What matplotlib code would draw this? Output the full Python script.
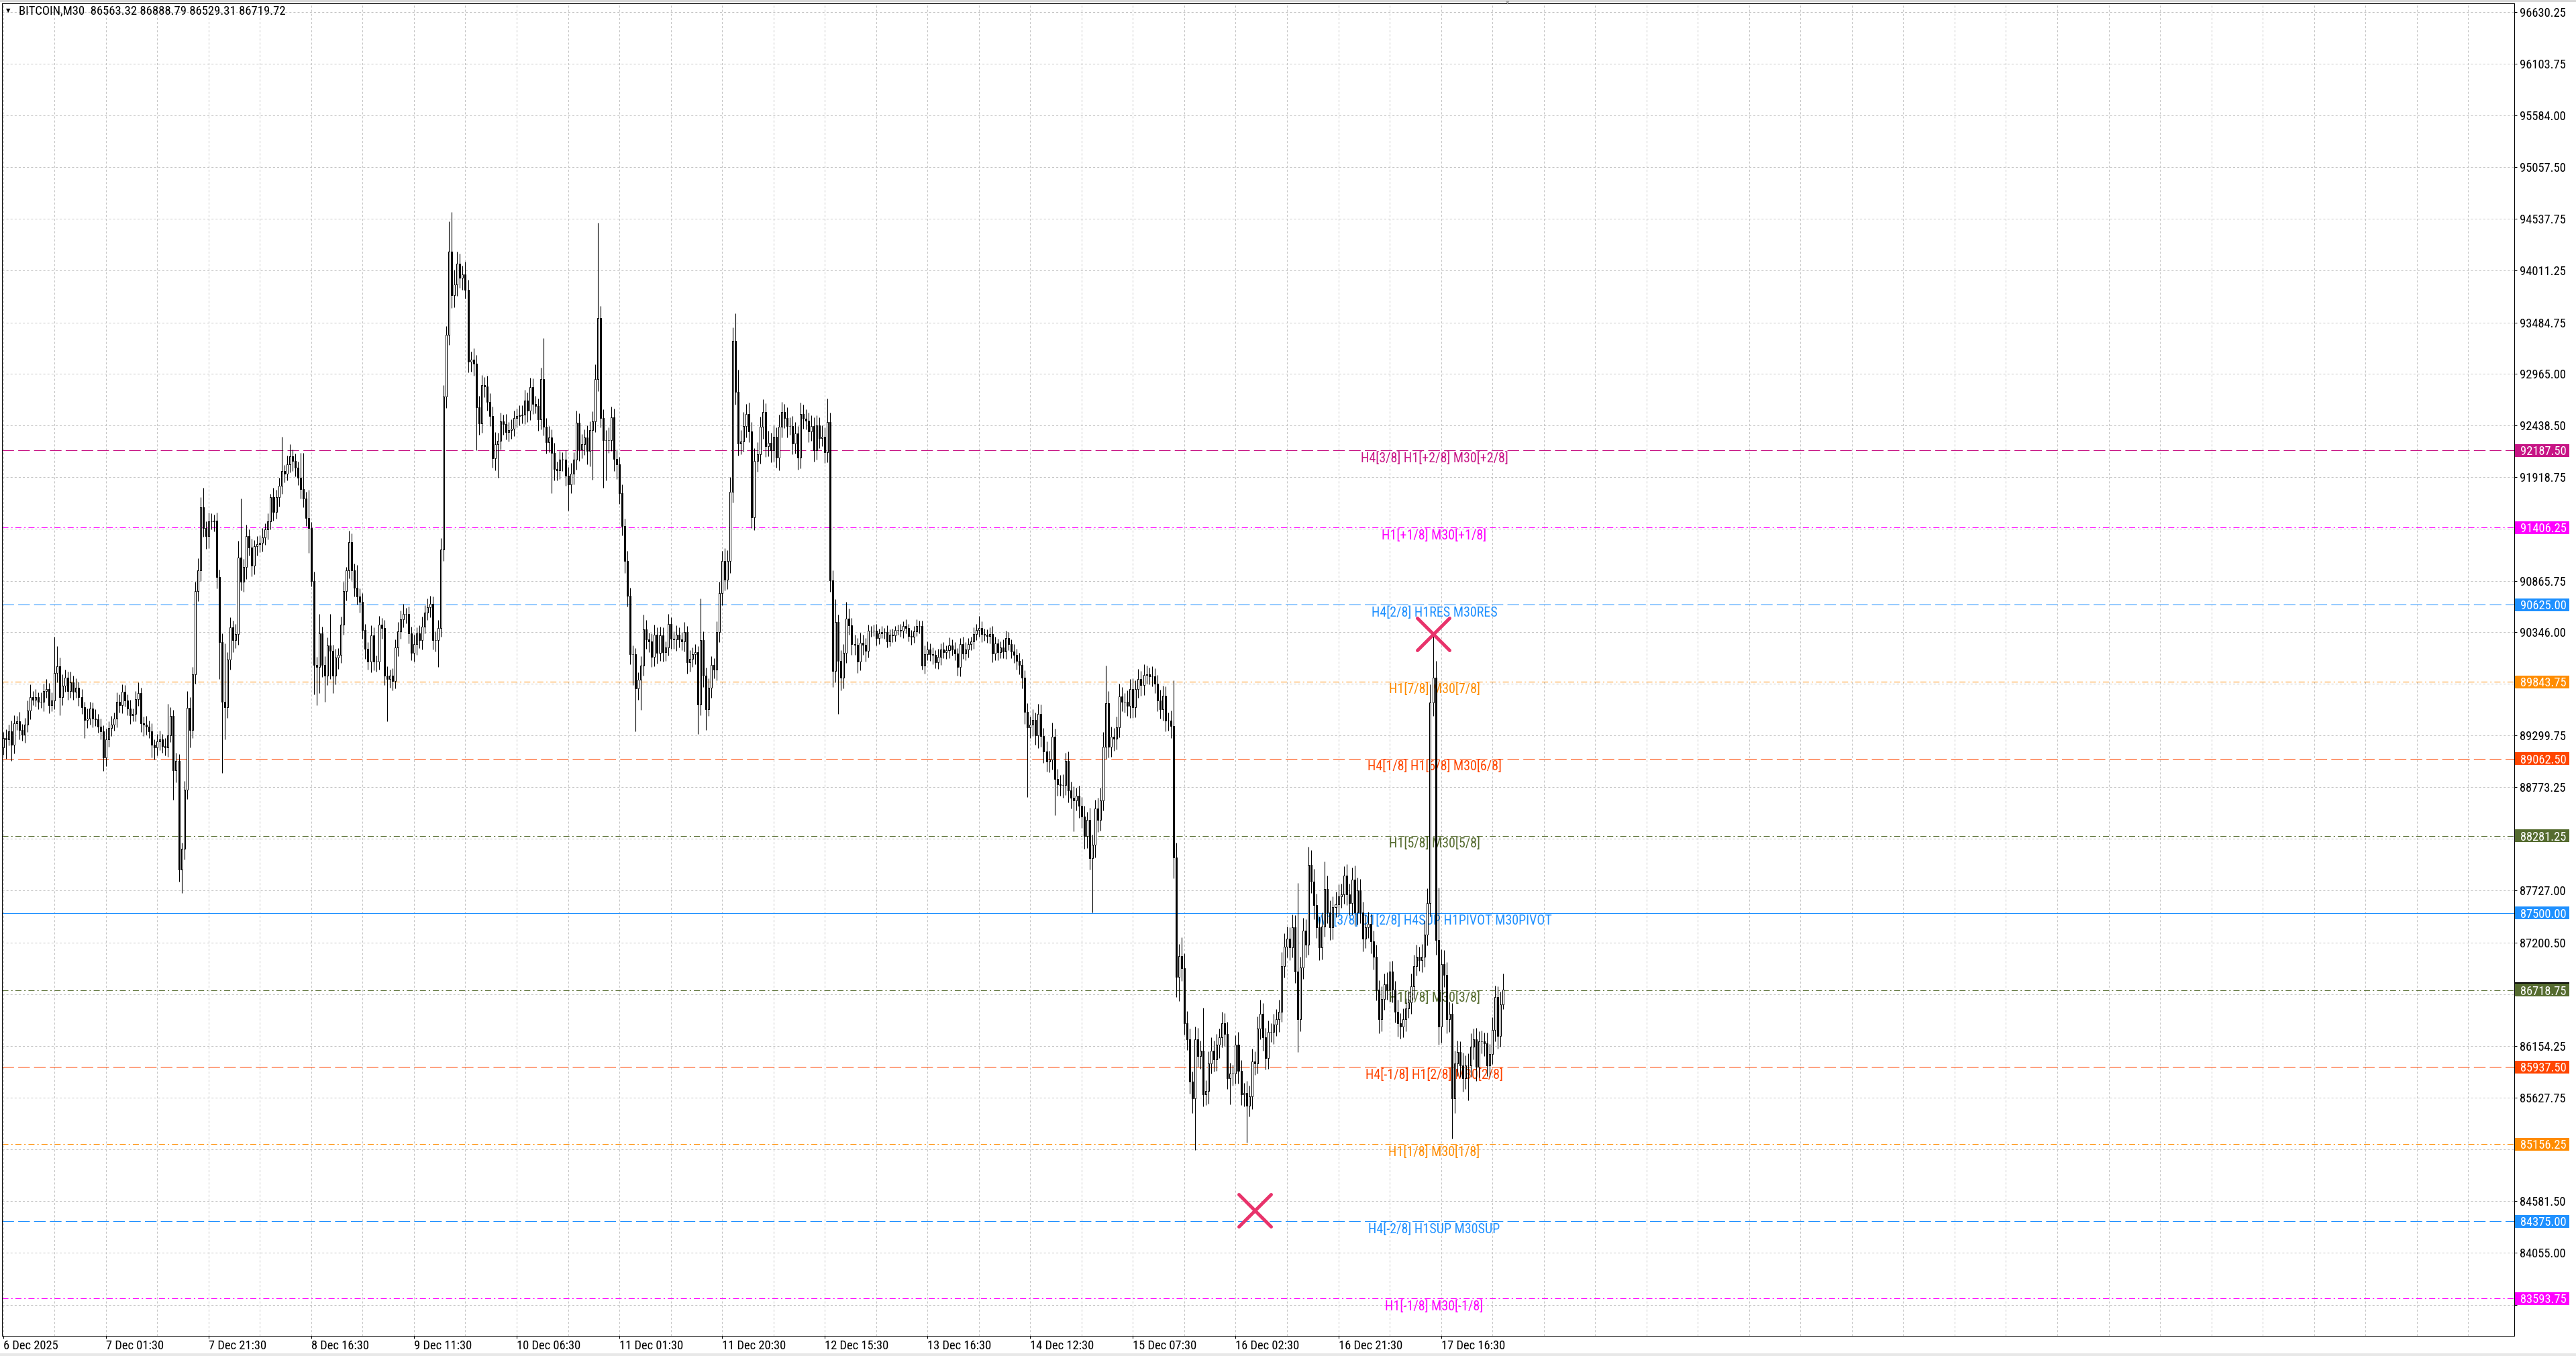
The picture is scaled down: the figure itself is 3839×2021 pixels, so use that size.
import numpy as np
import matplotlib
matplotlib.use("Agg")
import matplotlib.pyplot as plt
from matplotlib import font_manager as fm
from matplotlib.font_manager import FontProperties
from matplotlib.markers import MarkerStyle
from matplotlib.patches import Rectangle
from matplotlib.transforms import blended_transform_factory

# ---- data (BITCOIN, M30) ----
first_open = 89180

closes = [
    # 6 Dec - 8 Dec
    89274, 89257, 89340, 89208, 89422, 89445, 89356, 89307, 89406, 89554,
    89687, 89663, 89687, 89643, 89637, 89752, 89769, 89604, 89653, 89934,
    90000, 89687, 89802, 89884, 89752, 89835, 89742, 89785, 89687, 89587,
    89455, 89472, 89571, 89472, 89465, 89389, 89340, 89076, 89257, 89373,
    89406, 89472, 89637, 89604, 89742, 89653, 89571, 89505, 89521, 89670,
    89726, 89422, 89406, 89389, 89340, 89208, 89175, 89241, 89257, 89191,
    89175, 89300, 89498, 88944, 89043, 87937, 88152, 88746, 89577, 89356,
    89917, 90759, 90973, 91610, 91402, 91320, 91468, 91468, 91478, 90907,
    90247, 89637, 89587, 90066, 90396, 90264, 90330, 91105, 90857, 91006,
    91320, 91204, 91023, 91221, 91237, 91254, 91303, 91386, 91468, 91716,
    91567, 91716, 91831, 91980, 91953, 92046, 92128, 92078, 92013, 91914,
    91798, 91699, 91501, 91402,
    # 8 Dec - 10 Dec
    90866, 90014, 89996, 90334, 90014, 89908, 90210, 90156, 89908, 90086,
    90114, 90423, 90760, 90973, 91257, 90973, 90796, 90707, 90653, 90369,
    90174, 90049, 90316, 90049, 90049, 90423, 90387, 89908, 89872, 89908,
    89854, 90192, 90352, 90476, 90529, 90529, 90334, 90139, 90227, 90334,
    90263, 90405, 90547, 90600, 90636, 90263, 90263, 90387, 91186, 92731,
    93359, 94204, 93760, 93867, 94080, 93938, 93973, 93814, 93086, 93111,
    93068, 92624, 92464, 92853, 92837, 92678, 92535, 92109, 92251, 92287,
    92482, 92457, 92376, 92393, 92411, 92518, 92535, 92543, 92553, 92695,
    92589, 92827, 92660, 92642, 92500, 92908, 92429, 92269, 92322, 92163,
    92003, 91985, 92092, 92092, 91932, 91843, 91950, 92092, 92472, 92198,
    92251, 92322, 92180, 92393, 92482, 92908, 93530, 92518, 92294,
    # 10 Dec - 13 Dec
    92294, 92294, 92525, 92099, 92045, 91754, 91424, 91069, 90714, 90121,
    90121, 89773, 89862, 90004, 90377, 90270, 90252, 90093, 90323, 90135,
    90313, 90146, 90192, 90430, 90277, 90270, 90323, 90270, 90252, 90348,
    90039, 90075, 90121, 90146, 89613, 90263, 89908, 89567, 89780, 90014,
    89968, 90348, 90739, 91069, 90881, 91069, 91769, 93296, 92784, 92259,
    92276, 92436, 92560, 92383, 91513, 92081, 92152, 92429, 92578, 92230,
    92266, 92187, 92329, 92116, 92429, 92578, 92514, 92436, 92436, 92259,
    92358, 92116, 92560, 92507, 92489, 92383, 92436, 92187, 92443, 92312,
    92329, 92170, 92479, 90874, 89950, 90447, 90057, 89886, 90135, 90483,
    90412, 90227, 90217, 90050, 90241, 90217, 90156, 90359, 90359, 90359,
    90288, 90334, 90348, 90348, 90252, 90323, 90313, 90369, 90369, 90359,
    # 13 Dec - 15 Dec
    90406, 90387, 90309, 90301, 90356, 90406, 90406, 90004, 90122, 90172,
    90122, 90114, 90043, 90094, 90172, 90145, 90161, 90211, 90172, 90133,
    89997, 90223, 90133, 90172, 90223, 90250, 90328, 90367, 90387, 90328,
    90317, 90309, 90328, 90133, 90231, 90145, 90192, 90153, 90289, 90223,
    90153, 90114, 90055, 90016, 89887, 89536, 89380, 89411, 89458, 89302,
    89520, 89294, 89138, 89033, 89052, 89286, 88857, 88806, 88795, 88795,
    89040, 88740, 88670, 88638, 88689, 88584, 88474, 88279, 88443, 88053,
    88193, 88560, 88443, 88638, 89185, 89626, 89185, 89286, 89267, 89380,
    89692, 89638, 89638, 89599, 89770, 89587, 89770, 89872, 89809, 89911,
    89919, 89899, 89899, 89821, 89653, 89567, 89704, 89450, 89450, 89392,
    88065, 86855, 87062,
    # 15 Dec - 18 Dec
    86938, 86386, 86218, 85790, 85622, 86218, 86051, 86107, 85660, 85697,
    85976, 86107, 86013, 86162, 86237, 86386, 86274, 85827, 85872, 85872,
    86162, 85902, 85660, 85678, 85548, 85641, 85995, 85976, 86330, 86479,
    86237, 86032, 86293, 86293, 86367, 86423, 86498, 86964, 87161, 87243,
    87150, 87355, 86908, 86423, 86945, 87318, 87176, 87988, 87820, 87578,
    87355, 87150, 87362, 87746, 87504, 87355, 87560, 87586, 87671, 87690,
    87876, 87690, 87597, 87839, 87504, 87727, 87504, 87243, 87355, 87392,
    87213, 87057, 86721, 86423, 86628, 86777, 86721, 86908, 86721, 86498,
    86386, 86349, 86423, 86535, 86591, 86759, 86964, 87057, 87020, 87057,
    87280, 87597, 89635, 89888, 87224, 86349, 86982, 86871, 86423, 86479,
    85622, 85976, 86088, 85957, 85827, 85957, 85957, 86144, 86218, 85939,
    86200, 86200, 86181, 85957, 86069, 86312, 86647, 86256, 86572, 86721,
]

# wick lengths above / below the body, price units
upper_wick = [
    60, 90, 70, 110, 80, 50, 90, 60, 70, 100, 131, 60, 80, 50, 90, 70, 100, 60, 80, 363,
    204, 90, 120, 80, 60, 110, 70, 90, 60, 80, 50, 100, 70, 60, 90, 50, 80, 60, 110, 70,
    90, 60, 99, 80, 76, 70, 60, 90, 50, 80, 110, 60, 70, 90, 60, 80, 50, 70, 90, 60,
    80, 320, 90, 60, 80, 70, 60, 90, 175, 110, 80, 100, 120, 106, 198, 70, 90, 83, 60, 80,
    70, 90, 594, 80, 99, 70, 100, 165, 594, 80, 115, 70, 90, 60, 80, 70, 100, 60, 80, 33,
    90, 70, 80, 346, 60, 90, 122, 70, 80, 60, 247, 365, 70, 288, 60, 90, 80, 195, 70, 90,
    80, 319, 60, 90, 70, 80, 100, 35, 114, 90, 70, 230, 80, 90, 60, 70, 100, 80, 60, 90,
    70, 80, 90, 60, 70, 80, 100, 90, 107, 60, 80, 70, 90, 60, 80, 100, 70, 90, 80, 70,
    90, 80, 110, 120, 90, 302, 398, 150, 120, 100, 90, 130, 100, 80, 110, 90, 120, 100, 80, 110,
    90, 100, 120, 80, 90, 70, 100, 80, 90, 70, 80, 100, 90, 110, 80, 100, 90, 80, 70, 120,
    416, 90, 110, 80, 100, 70, 90, 80, 100, 90, 110, 80, 120, 90, 100, 80, 120, 90, 100, 150,
    966, 120, 90, 100, 130, 110, 90, 100, 80, 90, 70, 100, 80, 90, 60, 80, 100, 149, 90, 70,
    80, 100, 70, 90, 80, 60, 100, 70, 80, 90, 70, 80, 100, 60, 90, 70, 80, 60, 426, 90,
    80, 100, 90, 70, 110, 120, 100, 130, 110, 150, 140, 283, 220, 120, 140, 100, 110, 90, 130, 120,
    100, 130, 90, 120, 100, 110, 90, 120, 100, 80, 110, 90, 100, 120, 80, 110, 90, 100, 80, 110,
    90, 100, 80, 110, 90, 234, 90, 100, 231, 80, 110, 90, 170, 100, 80, 90, 70, 100, 80, 70,
    60, 50, 60, 70, 50, 60, 40, 70, 50, 60, 40, 50, 60, 50, 70, 40, 60, 50, 70, 60,
    60, 90, 80, 60, 70, 50, 80, 60, 70, 50, 80, 60, 70, 50, 60, 80, 70, 60, 50, 70,
    60, 125, 70, 50, 60, 70, 80, 70, 50, 60, 80, 70, 60, 50, 70, 60, 80, 60, 70,
    90, 80, 110, 70, 100, 90, 80, 100, 90, 145, 80, 100, 90, 110, 80, 100, 90, 110, 80, 100,
    90, 110, 80, 120, 100, 90, 110, 130, 150, 378, 120, 100, 90, 110, 130, 100, 90, 120, 100, 110,
    90, 100, 80, 110, 90, 70, 100, 80, 90, 110, 100, 90, 80, 100, 468, 144, 120, 188, 150, 120,
    110, 100, 130, 120, 100, 435, 110, 120, 130, 100, 110, 90, 112, 100, 120, 110, 90, 100, 130, 110,
    100, 120, 110, 130, 100, 120, 140, 110, 100, 120, 90, 110, 100, 120, 140, 130, 120, 110, 130, 120,
    894, 110, 130, 120, 186, 150, 130, 120, 110, 140, 279, 130, 120, 110, 130, 120, 110, 100, 120, 110,
    120, 140, 130, 120, 110, 130, 120, 100, 110, 120, 100, 130, 110, 120, 100, 110, 90, 120, 100,
    110, 100, 120, 130, 110, 120, 100, 130, 140, 150, 180, 429, 168, 533, 150, 140, 130, 120, 110, 130,
    120, 110, 130, 100, 120, 140, 110, 120, 100, 110, 90, 110, 100, 130, 120, 110, 130, 168,
]

lower_wick = [
    80, 197, 60, 165, 90, 70, 100, 60, 80, 70, 90, 60, 70, 80, 60, 90, 70, 80, 60, 90,
    100, 182, 80, 60, 90, 70, 80, 60, 90, 70, 181, 80, 60, 90, 70, 60, 80, 133, 90, 70,
    80, 60, 90, 70, 80, 60, 70, 90, 60, 80, 70, 90, 110, 80, 70, 130, 120, 80, 90, 70,
    80, 90, 70, 297, 120, 117, 232, 110, 90, 181, 80, 90, 100, 110, 90, 130, 120, 80, 100, 120,
    379, 720, 330, 109, 100, 120, 80, 110, 90, 100, 120, 80, 110, 90, 100, 80, 90, 70, 100, 80,
    90, 70, 100, 80, 90, 70, 80, 100, 90, 80, 100, 90, 80, 254, 53, 301, 390, 266, 120, 267,
    100, 284, 178, 90, 110, 80, 100, 90, 80, 100, 90, 80, 110, 90, 100, 80, 110, 90, 100, 80,
    110, 100, 426, 90, 100, 80, 90, 70, 80, 90, 100, 80, 90, 110, 80, 90, 70, 80, 100, 90,
    110, 266, 90, 120, 110, 100, 130, 120, 110, 100, 120, 90, 110, 100, 120, 437, 120, 100, 110, 90,
    100, 99, 120, 337, 90, 110, 80, 100, 90, 80, 100, 90, 80, 100, 110, 90, 100, 80, 110, 100,
    90, 110, 100, 409, 120, 100, 90, 110, 100, 266, 90, 110, 100, 120, 90, 110, 130, 150, 500, 110,
    120, 100, 487, 408, 130, 110, 120, 150, 110, 100, 120, 110, 100, 313, 434, 110, 302, 100, 90, 110,
    100, 90, 110, 80, 100, 90, 80, 100, 90, 110, 80, 90, 100, 110, 90, 80, 100, 302, 110, 120,
    213, 71, 100, 90, 110, 100, 120, 110, 100, 120, 110, 130, 120, 110, 100, 120, 110, 114, 130, 110,
    100, 120, 110, 100, 120, 110, 100, 130, 110, 100, 120, 90, 110, 100, 120, 110, 100, 90, 110, 100,
    110, 90, 100, 80, 110, 100, 120, 160, 110, 540, 130, 110, 100, 90, 110, 100, 120, 90, 100, 110,
    70, 60, 50, 80, 60, 50, 70, 60, 50, 70, 60, 50, 60, 70, 50, 60, 80, 60, 50, 70,
    40, 80, 60, 70, 90, 60, 70, 80, 60, 70, 80, 60, 70, 90, 100, 60, 70, 80, 60, 70,
    60, 70, 80, 60, 70, 80, 90, 70, 80, 60, 70, 80, 60, 70, 80, 90, 100, 110, 120,
    703, 110, 120, 100, 130, 110, 120, 100, 110, 100, 363, 120, 110, 130, 100, 120, 110, 312, 100, 120,
    110, 130, 120, 110, 546, 130, 120, 110, 100, 120, 110, 100, 120, 110, 100, 90, 110, 100, 120, 110,
    100, 90, 110, 100, 90, 80, 100, 90, 110, 100, 120, 110, 100, 120, 215, 207, 246, 130, 120, 110,
    120, 149, 522, 110, 130, 120, 110, 130, 100, 120, 110, 130, 100, 120, 110, 269, 120, 100, 130, 110,
    120, 373, 110, 130, 120, 100, 110, 130, 120, 110, 100, 120, 110, 130, 100, 120, 110, 130, 100, 120,
    335, 120, 110, 130, 100, 120, 140, 110, 130, 120, 100, 110, 130, 120, 100, 110, 120, 100, 110, 120,
    110, 130, 120, 110, 130, 100, 110, 120, 130, 110, 140, 120, 110, 100, 120, 130, 110, 140, 120,
    110, 120, 100, 110, 130, 100, 110, 120, 100, 110, 130, 140, 150, 186, 160, 120, 140, 130, 410, 150,
    130, 120, 140, 110, 353, 120, 130, 140, 110, 120, 130, 110, 120, 100, 110, 130, 110, 43,
]

time_labels = ["6 Dec 2025", "7 Dec 01:30", "7 Dec 21:30", "8 Dec 16:30", "9 Dec 11:30",
               "10 Dec 06:30", "11 Dec 01:30", "11 Dec 20:30", "12 Dec 15:30",
               "13 Dec 16:30", "14 Dec 12:30", "15 Dec 07:30", "16 Dec 02:30",
               "16 Dec 21:30", "17 Dec 16:30"]
bars_per_label = 38

# grid prices; None marks the ones hidden under the level boxes
price_ticks = [96630.25, 96103.75, 95584.00, 95057.50, 94537.75, 94011.25, 93484.75,
               92965.00, 92438.50, 91918.75, 91392.25, 90865.75, 90346.00, 89822.75,
               89299.75, 88773.25, 88250.50, 87727.00, 87200.50, 86677.50, 86154.25,
               85627.75, 85105.00, 84581.50, 84055.00, 83528.50]
hidden_ticks = [91392.25, 89822.75, 88250.50, 86677.50, 85105.00, 83528.50]

levels = [92187.50, 91406.25, 90625.00, 89843.75, 89062.50, 88281.25,
          87500.00, 86718.75, 85937.50, 85156.25, 84375.00, 83593.75]
level_texts = ["H4[3/8] H1[+2/8] M30[+2/8]", "H1[+1/8] M30[+1/8]",
               "H4[2/8] H1RES M30RES", "H1[7/8] M30[7/8]",
               "H4[1/8] H1[6/8] M30[6/8]", "H1[5/8] M30[5/8]",
               "W1[3/8] D1[2/8] H4SUP H1PIVOT M30PIVOT", "H1[3/8] M30[3/8]",
               "H4[-1/8] H1[2/8] M30[2/8]", "H1[1/8] M30[1/8]",
               "H4[-2/8] H1SUP M30SUP", "H1[-1/8] M30[-1/8]"]
bid_price = 86719.72

mark_bars = [463, 529]
mark_prices = [84485, 90330]

header = "BITCOIN,M30  86563.32 86888.79 86529.31 86719.72"

# ---- styles ----
level_colors = ["#C71585", "#FF00FF", "#1E90FF", "#FF8C00", "#FF4500", "#556B2F",
                "#1E90FF", "#556B2F", "#FF4500", "#FF8C00", "#1E90FF", "#FF00FF"]
DASH = (0, (12.5, 4.5))
DASHDOT = (0, (6.5, 3.0, 1.5, 3.0))
level_styles = [DASH, DASHDOT, DASH, DASHDOT, DASH, DASHDOT,
                "-", DASHDOT, DASH, DASHDOT, DASH, DASHDOT]

W, H, DPI = 3839, 2021, 100
plt.rcParams['lines.scale_dashes'] = False


def pick_narrow():
    regular = (400, 'normal', 'regular', 'book', 'Regular', 'Book', 'Normal')
    ok = [e for e in fm.fontManager.ttflist if e.style == 'normal' and e.weight in regular]
    for name in ['Liberation Sans Narrow', 'DejaVu Sans Condensed', 'Roboto Condensed',
                 'Open Sans Condensed', 'Noto Sans Condensed']:
        for e in ok:
            if e.name == name:
                return e.fname
    for e in ok:
        if str(e.stretch) in ('condensed', 'semi-condensed', 'extra-condensed'):
            return e.fname
    return None


narrow = pick_narrow()


def make_fp(size):
    if narrow:
        return FontProperties(fname=narrow, size=size)
    return FontProperties(family='DejaVu Sans', size=size)


fig = plt.figure(figsize=(W / DPI, H / DPI), dpi=DPI)
fig.patch.set_facecolor('white')
renderer = fig.canvas.get_renderer()


def fit_size(sample, target_px):
    t = fig.text(0, 0, sample, fontproperties=make_fp(10))
    w = t.get_window_extent(renderer).width
    t.remove()
    return 10 * target_px / w


axis_size = 0.5 * (fit_size("96630.25", 67) + fit_size("7 Dec 01:30", 87))
level_size = fit_size(level_texts[0], 218)
head_size = fit_size("86563.32 86888.79 86529.31 86719.72", 287)
fp_axis = make_fp(axis_size)
fp_level = make_fp(level_size)
fp_head = make_fp(head_size)

ax = fig.add_axes([3 / W, 30 / H, 3744 / W, 1986 / H])
ax.set_facecolor('white')

px_per_bar = 4.028
ax.set_xlim((3 - 4.7) / px_per_bar, (3747 - 4.7) / px_per_bar)
ax.set_ylim(83214, 96719)

# candles
o = np.array([first_open] + closes[:-1], dtype=float)
c = np.array(closes, dtype=float)
hi = np.maximum(o, c) + np.array(upper_wick)
lo = np.minimum(o, c) - np.array(lower_wick)
x = np.arange(len(c))
ax.vlines(x, lo, hi, color='black', linewidth=0.8, zorder=3)
ax.bar(x, np.abs(c - o), bottom=np.minimum(o, c), width=0.5,
       color=np.where(c >= o, 'white', 'black'), edgecolor='black',
       linewidth=0.72, zorder=4)

# Murrey levels
label_bar = 529.5
cap_px = 0.72 * level_size * DPI / 72
for p, txt, col, ls in zip(levels, level_texts, level_colors, level_styles):
    ax.axhline(p, color=col, linewidth=0.75, linestyle=ls, zorder=2)
    ax.annotate(txt, xy=(label_bar, p), xytext=(0, -(3 + cap_px) * 72 / DPI),
                textcoords='offset points', ha='center', va='baseline',
                color=col, fontproperties=fp_level, zorder=2.5,
                annotation_clip=False)

# X marks
ax.plot(mark_bars, mark_prices, linestyle='none',
        marker=MarkerStyle('x', capstyle='round'), markersize=34,
        markeredgewidth=3.6, color='#E8336B', zorder=6)

# axes, ticks, grid
ax.set_axisbelow(True)
major_x = [bars_per_label * k for k in range(len(time_labels))]
minor_x = [v for v in range(0, 930, 19) if v not in major_x]
ax.set_xticks(major_x, time_labels)
ax.set_xticks(minor_x, minor=True)
ax.set_yticks(price_ticks, ["" if v in hidden_ticks else f"{v:.2f}" for v in price_ticks])
ax.yaxis.tick_right()
ax.tick_params(axis='x', which='major', length=3, width=0.72, pad=1.5, colors='black')
ax.tick_params(axis='x', which='minor', length=0)
ax.tick_params(axis='y', length=3, width=0.72, pad=2.5, colors='black')
for lbl in ax.get_xticklabels():
    lbl.set_fontproperties(fp_axis)
    lbl.set_ha('left')
for lbl in ax.get_yticklabels():
    lbl.set_fontproperties(fp_axis)
ax.grid(True, which='both', axis='x', color='#C4C4C4', linestyle=(0, (2.2, 2.2)), linewidth=0.72)
ax.grid(True, which='major', axis='y', color='#C4C4C4', linestyle=(0, (2.2, 2.2)), linewidth=0.72)
for s in ax.spines.values():
    s.set_color('black')
    s.set_linewidth(0.72)

# level price boxes on the right scale
tb = blended_transform_factory(fig.transFigure, ax.transData)
price_per_px = (96719 - 83214) / 1986
box_h = 19 * price_per_px
# bid label peeking above the 86718.75 box
ax.add_patch(Rectangle((3748 / W, bid_price - box_h / 2), 81 / W, box_h + 2 * price_per_px,
                       transform=tb, facecolor='black', edgecolor='none',
                       clip_on=False, zorder=8))
for p, col in zip(levels, level_colors):
    ax.add_patch(Rectangle((3748 / W, p - box_h / 2), 81 / W, box_h, transform=tb,
                           facecolor=col, edgecolor='none', clip_on=False, zorder=9))
    ax.text(3756 / W, p, f"{p:.2f}", transform=tb, ha='left', va='center_baseline',
            color='white', fontproperties=fp_axis, clip_on=False, zorder=10)

# header and frame decorations
fig.text(9 / W, 1 - 16 / H, "\u25BC", fontsize=6, family='DejaVu Sans', va='center')
fig.text(27.7 / W, 1 - 16 / H, header, fontproperties=fp_head, va='center', ha='left')
fig.text(2247 / W, 1 - 1 / H, "\u25BC", fontsize=5, family='DejaVu Sans',
         color='#A0A0A0', ha='center', va='top')
fig.add_artist(Rectangle((0, 1 - 3 / H), 1, 3 / H, transform=fig.transFigure,
                         facecolor='#D8D8D8', edgecolor='none'))
fig.add_artist(Rectangle((0, 0), 1, 4 / H, transform=fig.transFigure,
                         facecolor='#E8E8E8', edgecolor='none'))

fig.savefig("out.png", dpi=DPI, facecolor='white')
